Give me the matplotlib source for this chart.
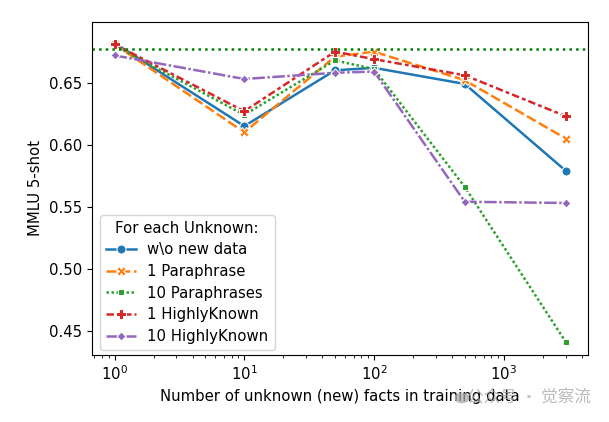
import numpy as np
import pandas as pd
import matplotlib
matplotlib.use('Agg')
import matplotlib.pyplot as plt
import seaborn as sns

plt.rcParams['font.size'] = 10.7

# number of unknown facts (x) and MMLU scores per setup
n_facts = [1, 10, 50, 100, 500, 3000]
setups = ['w\\o new data', '1 Paraphrase', '10 Paraphrases', '1 HighlyKnown', '10 HighlyKnown']
wo_new = [0.682, 0.615, 0.660, 0.662, 0.649, 0.579]
para_1 = [0.681, 0.610, 0.671, 0.675, 0.652, 0.605]
para_10 = [0.680, 0.624, 0.668, 0.661, 0.566, 0.441]
known_1 = [0.681, 0.627, 0.675, 0.669, 0.656, 0.623]
known_10 = [0.672, 0.653, 0.658, 0.659, 0.554, 0.553]
baseline = 0.677

rows = []
for name, vals in zip(setups, [wo_new, para_1, para_10, known_1, known_10]):
    for x, y in zip(n_facts, vals):
        rows.append({'n': x, 'mmlu': y, 'setup': name})
df = pd.DataFrame(rows)

fig = plt.figure(figsize=(6.09, 4.22), dpi=100)
ax = fig.add_axes([0.151, 0.159, 0.815, 0.789])

sns.lineplot(data=df, x='n', y='mmlu', hue='setup', style='setup',
             markers=True, dashes=True, ax=ax, linewidth=1.8, markersize=6.5)
ax.axhline(baseline, color='green', linestyle=':', linewidth=1.8)

ax.set_xscale('log')
ax.set_ylim(0.4305, 0.699)
ax.set_xlabel('Number of unknown (new) facts in training data')
ax.set_ylabel('MMLU 5-shot')

handles, labels = ax.get_legend_handles_labels()
ax.legend(handles, labels, title='For each Unknown:', loc='lower left',
          bbox_to_anchor=(0.016, 0.015), borderaxespad=0, title_fontsize=10.7,
          labelspacing=0.45)

# watermark
fig.patches.append(matplotlib.patches.Circle((462 / 609, 1 - 398 / 422), 0.011,
                                             transform=fig.transFigure,
                                             color='#aaaaaa', alpha=0.7))
fig.text(0.97, 1 - 398 / 422, '公众号 · 觉察流', ha='right', va='center', color='#aaaaaa',
         fontsize=12, family=['Noto Sans CJK SC', 'DejaVu Sans'], alpha=0.8)

fig.savefig('out.png', dpi=100)
